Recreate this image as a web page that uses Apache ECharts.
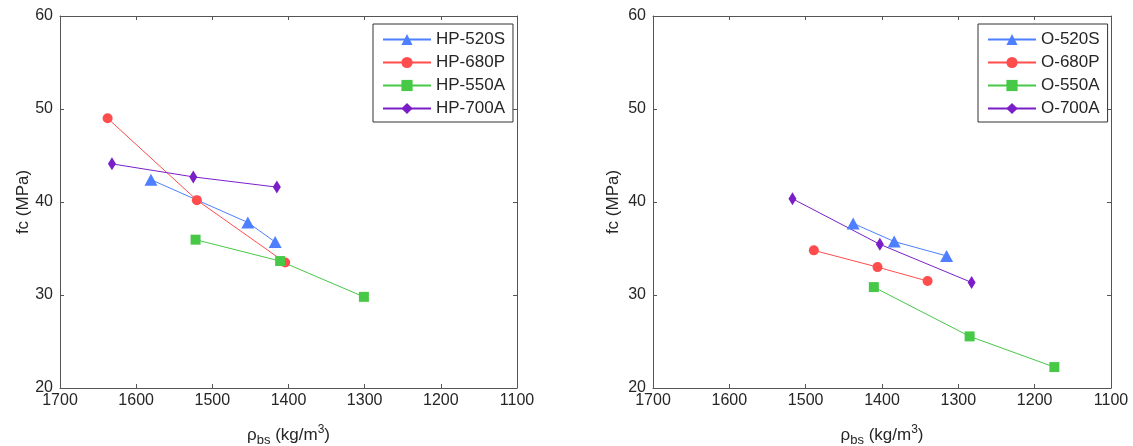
<!DOCTYPE html>
<html>
<head>
<meta charset="utf-8">
<script src="https://cdn.jsdelivr.net/npm/echarts@6/dist/echarts.min.js"></script>
<style>html,body{margin:0;padding:0;background:#fff}#c{width:1133px;height:446px}</style>
</head>
<body>
<div id="c"></div>
<script>
// ---- data (x = density kg/m3, y = fc MPa) ----
const HP520S = [[1580.6, 42.4], [1453.4, 37.8], [1417.5, 35.7]];
const HP680P = [[1637.5, 49.0], [1520.3, 40.2], [1404.4, 33.5]];
const HP550A = [[1522, 35.95], [1411, 33.65], [1301, 29.8]];
const HP700A = [[1631.8, 44.1], [1525, 42.7], [1415.3, 41.6]];

const O520S = [[1437.8, 37.7], [1384, 35.75], [1315.4, 34.2]];
const O680P = [[1489.3, 34.8], [1405.9, 33.0], [1340.3, 31.5]];
const O550A = [[1410.7, 30.85], [1285.2, 25.55], [1174.2, 22.25]];
const O700A = [[1517.3, 40.35], [1402.8, 35.45], [1282.6, 31.35]];

const leftNames = ['HP-520S', 'HP-680P', 'HP-550A', 'HP-700A'];
const rightNames = ['O-520S', 'O-680P', 'O-550A', 'O-700A'];
const xTicks = [1100, 1700, 100];
const yTicks = [20, 60, 10];

const colors = ['#4d7fff', '#ff4d4d', '#47c947', '#7a1fc8'];
const symbols = ['triangle', 'circle', 'rect', 'diamond'];
const symSizes = [[13, 12], 10, 10, [8, 13]];

const font = 'Liberation Sans, Arial, sans-serif';
const axisCol = '#555';
const txtCol = '#262626';

function xAx(gi, bottom) {
  return {
    type: 'value', gridIndex: gi, min: xTicks[0], max: xTicks[1], interval: xTicks[2],
    inverse: true, position: bottom ? 'bottom' : 'top',
    axisLine: { show: true, onZero: false, lineStyle: { color: axisCol, width: 1 } },
    axisTick: { show: true, inside: true, length: 4, lineStyle: { color: axisCol } },
    axisLabel: { show: bottom, color: txtCol, fontSize: 16, fontFamily: font, margin: 5,
      formatter: v => String(v) },
    splitLine: { show: false },
    name: bottom ? '{r|ρ}{sub|bs}{r| (kg/m}{sup|3}{r|)}' : '',
    nameLocation: 'middle', nameGap: 37, nameMoveOverlap: false,
    nameTextStyle: {
      color: txtCol, fontFamily: font,
      rich: {
        r: { fontSize: 17, lineHeight: 20, fontFamily: font, color: txtCol },
        sub: { fontSize: 13, lineHeight: 14, padding: [10, 0, 0, 0], fontFamily: font, color: txtCol },
        sup: { fontSize: 12, lineHeight: 14, padding: [0, 0, 10, 0], fontFamily: font, color: txtCol }
      }
    }
  };
}
function yAx(gi, left, gap) {
  return {
    type: 'value', gridIndex: gi, min: yTicks[0], max: yTicks[1], interval: yTicks[2],
    position: left ? 'left' : 'right',
    axisLine: { show: true, onZero: false, lineStyle: { color: axisCol, width: 1 } },
    axisTick: { show: true, inside: true, length: 4, lineStyle: { color: axisCol } },
    axisLabel: { show: left, color: txtCol, fontSize: 16, fontFamily: font, margin: 7 },
    splitLine: { show: false },
    name: left ? 'fc (MPa)' : '', nameLocation: 'middle', nameGap: gap, nameMoveOverlap: false,
    nameTextStyle: { color: txtCol, fontSize: 17, fontFamily: font }
  };
}

function mkSeries(names, datas, xi, yi) {
  return names.map((n, i) => ({
    name: n, type: 'line', xAxisIndex: xi, yAxisIndex: yi,
    data: datas[i], symbol: symbols[i], symbolSize: symSizes[i],
    lineStyle: { color: colors[i], width: 1 },
    itemStyle: { color: colors[i] },
    animation: false
  }));
}

function mkLegend(names, left) {
  return {
    data: names, orient: 'vertical', left: left, top: 24,
    backgroundColor: '#fff', borderColor: '#333', borderWidth: 1,
    padding: [7, 8, 5, 9], itemWidth: 48, itemHeight: 14, itemGap: 6,
    textStyle: { color: txtCol, fontSize: 17, fontFamily: font }
  };
}

const chart = echarts.init(document.getElementById('c'));
chart.setOption({
  animation: false,
  backgroundColor: '#fff',
  grid: [
    { left: 60, top: 16, width: 457, height: 372, outerBoundsMode: 'none', containLabel: false },
    { left: 653, top: 16, width: 458, height: 372, outerBoundsMode: 'none', containLabel: false }
  ],
  xAxis: [xAx(0, true), xAx(1, true), xAx(0, false), xAx(1, false)],
  yAxis: [yAx(0, true, 28), yAx(1, true, 31), yAx(0, false, 0), yAx(1, false, 0)],
  legend: [mkLegend(leftNames, 373), mkLegend(rightNames, 978)],
  series: mkSeries(leftNames, [HP520S, HP680P, HP550A, HP700A], 0, 0)
    .concat(mkSeries(rightNames, [O520S, O680P, O550A, O700A], 1, 1))
});
</script>
</body>
</html>
